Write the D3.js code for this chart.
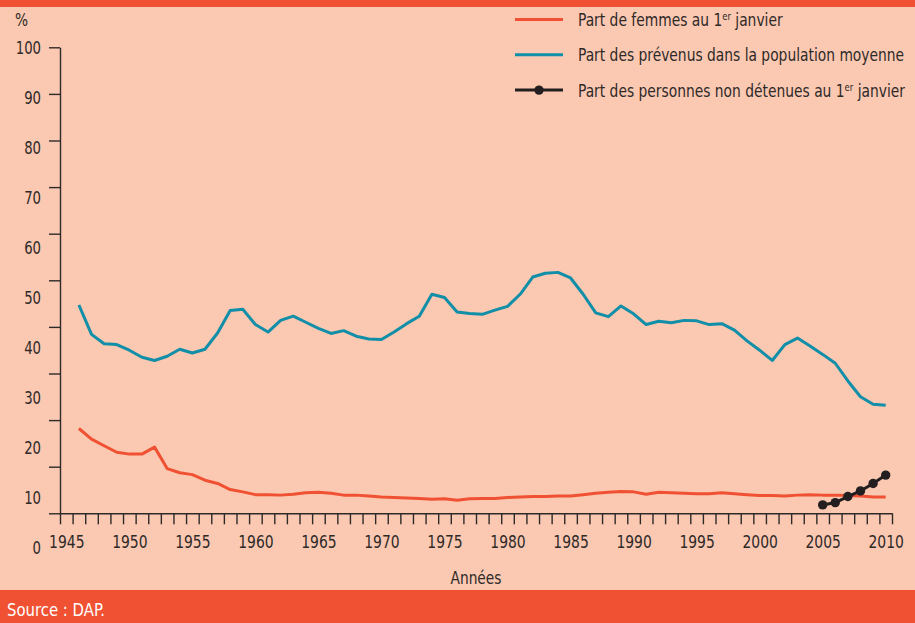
<!DOCTYPE html>
<html>
<head>
<meta charset="utf-8">
<script src="https://cdn.jsdelivr.net/npm/d3@7"></script>
<style>
  body { margin: 0; background: #fbc8b2; }
  svg text { font-family: "Liberation Sans Narrow", "DejaVu Sans Condensed", "Roboto", sans-serif; fill: #2e2a28; }
</style>
</head>
<body>
<div id="chart"></div>
<script>
// years for each series
var yearsLong = d3.range(1946, 2011);
var yearsShort = d3.range(2005, 2011);

// part de femmes au 1er janvier (%)
var femmes = [18.2, 15.9, 14.5, 13.1, 12.7, 12.7, 14.2, 9.6, 8.7, 8.3,
              7.1, 6.4, 5.1, 4.6, 4.0, 4.0, 3.9, 4.1, 4.4, 4.5,
              4.3, 3.9, 3.9, 3.7, 3.5, 3.4, 3.3, 3.2, 3.0, 3.1,
              2.8, 3.1, 3.2, 3.2, 3.4, 3.5, 3.6, 3.6, 3.7, 3.7,
              4.0, 4.3, 4.5, 4.7, 4.6, 4.1, 4.5, 4.4, 4.3, 4.2,
              4.2, 4.4, 4.2, 4.0, 3.8, 3.8, 3.7, 3.9, 4.0, 3.9,
              3.9, 3.8, 3.7, 3.5, 3.5];

// part des prevenus dans la population moyenne (%)
var prevenus = [44.7, 38.4, 36.4, 36.2, 35.0, 33.5, 32.8, 33.7, 35.2, 34.4,
                35.2, 38.7, 43.5, 43.8, 40.5, 38.9, 41.4, 42.3, 41.0, 39.7,
                38.6, 39.2, 38.0, 37.4, 37.3, 38.9, 40.7, 42.3, 47.0, 46.3,
                43.2, 42.9, 42.7, 43.6, 44.4, 47.0, 50.7, 51.5, 51.7, 50.5,
                47.0, 43.0, 42.2, 44.5, 42.8, 40.5, 41.2, 40.9, 41.4, 41.3,
                40.5, 40.7, 39.3, 37.0, 35.0, 32.8, 36.2, 37.6, 35.9, 34.1,
                32.2, 28.4, 25.0, 23.4, 23.2];

// part des personnes non detenues au 1er janvier (%)
var nonDetenus = [1.8, 2.3, 3.6, 4.8, 6.4, 8.2];

var yTicks = d3.range(0, 101, 10);
var xLabelYears = d3.range(1945, 2011, 5);

var width = 915;
var height = 623;

// condensed look: squeeze text horizontally around its anchor
function squeeze(sel, k) {
  sel.each(function() {
    var t = d3.select(this);
    var x0 = +t.attr("x") || 0;
    t.attr("transform", "translate(" + x0 + ",0) scale(" + k + ",1) translate(" + (-x0) + ",0)");
  });
}

var svg = d3.select("#chart")
            .append("svg")
            .attr("width", width)
            .attr("height", height);

svg.append("rect")
   .attr("width", width)
   .attr("height", height)
   .style("fill", "#fbc8b2");

// orange bands top and bottom
svg.append("rect")
   .attr("x", 0).attr("y", 0)
   .attr("width", width).attr("height", 7)
   .style("fill", "#f05133");
svg.append("rect")
   .attr("x", 0).attr("y", 590)
   .attr("width", width).attr("height", 33)
   .style("fill", "#f05133");

svg.append("text")
   .text("Source : DAP.")
   .attr("x", 7)
   .attr("y", 616)
   .style("font-size", "18px")
   .style("fill", "#ffffff")
   .call(squeeze, 0.92);

// scales
var x = d3.scaleLinear().domain([1944.5, 2010.5]).range([60, 892]);
var y = d3.scaleLinear().domain([0, 100]).range([513.3, 47.3]);
// the labels of the original sit on their own (slightly wider) spacing
var yLabel = d3.scaleLinear().domain([0, 100]).range([547.7, 47.7]);

// y axis ticks
svg.append("g")
   .attr("transform", "translate(60,0)")
   .call(d3.axisLeft(y).tickValues(yTicks).tickSize(11).tickSizeOuter(0).tickFormat(""));

// y axis labels
var yLabG = svg.append("g")
   .attr("transform", "translate(60,0)")
   .call(d3.axisLeft(yLabel).tickValues(yTicks).tickSize(0).tickPadding(19));
yLabG.select(".domain").remove();

// x axis ticks at year boundaries
svg.append("g")
   .attr("transform", "translate(0,513.3)")
   .call(d3.axisBottom(x).tickValues(d3.range(1944.5, 2010.6, 1)).tickSize(11).tickSizeOuter(0).tickFormat(""));

var xLabG = svg.append("g")
   .attr("transform", "translate(0,513.3)")
   .call(d3.axisBottom(x).tickValues(xLabelYears).tickSize(0).tickPadding(22).tickFormat(d3.format("d")));
xLabG.select(".domain").remove();

svg.selectAll(".domain, .tick line")
   .style("stroke", "#2e2a28")
   .style("stroke-width", 1.4);
svg.selectAll(".tick text")
   .style("font-size", "18px")
   .style("fill", "#2e2a28");
yLabG.selectAll(".tick text").call(squeeze, 0.82);
xLabG.selectAll(".tick text").call(squeeze, 0.86);

svg.append("text")
   .text("%")
   .attr("x", 15)
   .attr("y", 26)
   .style("font-size", "18px")
   .call(squeeze, 0.85);

svg.append("text")
   .text("Années")
   .attr("x", 476)
   .attr("y", 584)
   .attr("text-anchor", "middle")
   .style("font-size", "17px")
   .call(squeeze, 0.9);

// lines
var line = d3.line()
   .x(function(d) { return x(d.year); })
   .y(function(d) { return y(d.v); });

function pairs(years, vals) {
  return years.map(function(yr, i) { return { year: yr, v: vals[i] }; });
}

var red = "#f05133";
var blue = "#118ea8";
var black = "#231f20";

svg.append("path")
   .datum(pairs(yearsLong, femmes))
   .attr("d", line)
   .style("fill", "none")
   .style("stroke", red)
   .style("stroke-width", 3)
   .style("stroke-linejoin", "round");

svg.append("path")
   .datum(pairs(yearsLong, prevenus))
   .attr("d", line)
   .style("fill", "none")
   .style("stroke", blue)
   .style("stroke-width", 3)
   .style("stroke-linejoin", "round");

svg.append("path")
   .datum(pairs(yearsShort, nonDetenus))
   .attr("d", line)
   .style("fill", "none")
   .style("stroke", black)
   .style("stroke-width", 3);

svg.selectAll("circle.pt")
   .data(pairs(yearsShort, nonDetenus))
   .enter()
     .append("circle")
     .attr("class", "pt")
     .attr("cx", function(d) { return x(d.year); })
     .attr("cy", function(d) { return y(d.v); })
     .attr("r", 4.7)
     .style("fill", black);

// legend
var legendItems = [
  { pre: "Part de femmes au 1", sup: "er", post: " janvier", color: red, dot: false },
  { pre: "Part des prévenus dans la population moyenne", sup: "", post: "", color: blue, dot: false },
  { pre: "Part des personnes non détenues au 1", sup: "er", post: " janvier", color: black, dot: true }
];

var legend = svg.append("g");
legendItems.forEach(function(item, i) {
  var ly = 19.5 + i * 35.3;
  legend.append("line")
     .attr("x1", 515).attr("x2", 563)
     .attr("y1", ly).attr("y2", ly)
     .style("stroke", item.color)
     .style("stroke-width", 3);
  if (item.dot) {
    legend.append("circle")
       .attr("cx", 539).attr("cy", ly).attr("r", 4.7)
       .style("fill", item.color);
  }
  var t = legend.append("text")
     .attr("x", 578)
     .attr("y", ly + 6.5)
     .style("font-size", "18px");
  t.append("tspan").text(item.pre);
  if (item.sup) {
    t.append("tspan").text(item.sup)
       .attr("dy", -6)
       .style("font-size", "11px");
    t.append("tspan").text(item.post).attr("dy", 6);
  }
  t.call(squeeze, 0.855);
});
</script>
</body>
</html>
